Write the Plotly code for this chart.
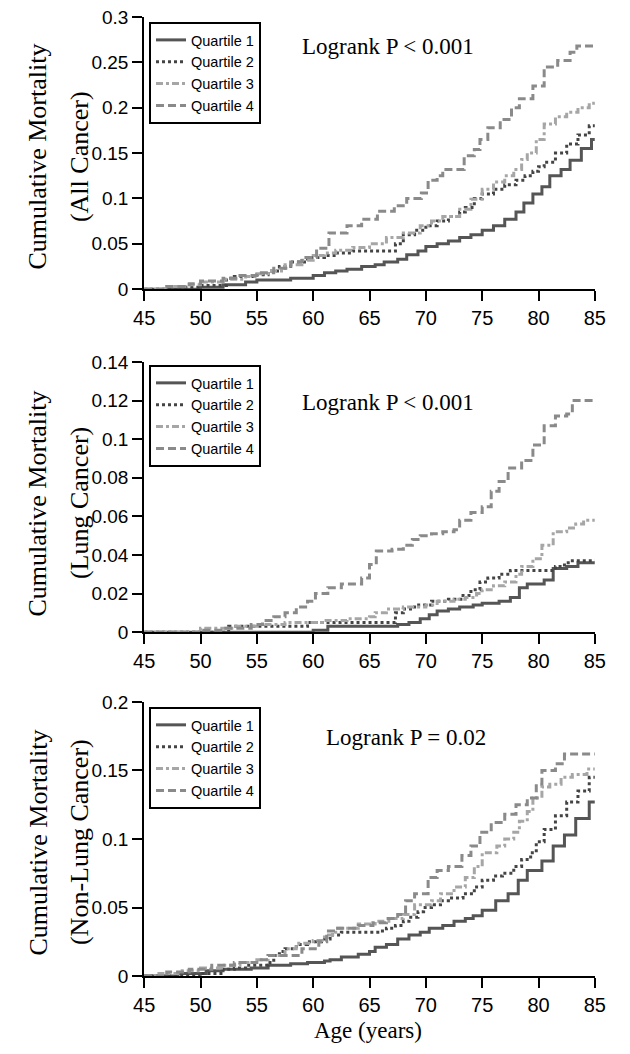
import plotly.graph_objects as go

W, H = 630, 1054

# ---------------- Data (step points: age, cumulative mortality) ----------------
quartiles = ["Quartile 1", "Quartile 2", "Quartile 3", "Quartile 4"]

# Panel 1: All cancer
all_q1_x = [45, 50, 52, 54, 55, 58, 60, 61, 62, 63, 64.3, 65.5, 66.3, 67.5, 68.3, 69.3, 70, 71, 72, 73, 74, 75, 76, 77, 78, 78.7, 79.5, 80.3, 81, 82, 82.8, 83.8, 84.7, 85]
all_q1_y = [0, 0.002, 0.005, 0.008, 0.01, 0.012, 0.015, 0.018, 0.02, 0.022, 0.025, 0.027, 0.03, 0.033, 0.038, 0.042, 0.047, 0.05, 0.053, 0.057, 0.06, 0.065, 0.07, 0.077, 0.085, 0.095, 0.105, 0.113, 0.125, 0.132, 0.142, 0.155, 0.165, 0.165]
all_q2_x = [45, 48, 50, 52.3, 53, 55, 56, 57, 58, 59.5, 61, 62, 63.5, 67.3, 68, 69, 70, 71, 72, 73, 73.5, 74.3, 75, 76, 77, 78, 78.8, 79.5, 80, 80.5, 81.5, 82.5, 83.5, 84.5, 85]
all_q2_y = [0, 0.002, 0.004, 0.012, 0.014, 0.016, 0.02, 0.025, 0.03, 0.035, 0.037, 0.04, 0.042, 0.05, 0.06, 0.065, 0.07, 0.075, 0.08, 0.085, 0.09, 0.1, 0.105, 0.11, 0.115, 0.12, 0.125, 0.13, 0.135, 0.14, 0.15, 0.16, 0.17, 0.18, 0.18]
all_q3_x = [45, 47, 49, 50, 52, 54, 55, 56, 57.5, 59, 60, 61, 62, 63.5, 65, 66.5, 68, 69.5, 70.5, 71.5, 73, 74, 75, 76, 77, 77.8, 78.5, 79, 79.8, 80.5, 81.5, 82.5, 83.5, 84.5, 85]
all_q3_y = [0, 0.003, 0.005, 0.008, 0.011, 0.014, 0.017, 0.02, 0.027, 0.032, 0.037, 0.04, 0.043, 0.046, 0.05, 0.057, 0.062, 0.07, 0.075, 0.08, 0.088, 0.099, 0.11, 0.118, 0.125, 0.132, 0.143, 0.15, 0.165, 0.182, 0.19, 0.195, 0.2, 0.205, 0.207]
all_q4_x = [45, 47, 49, 50, 52, 53.5, 55, 56.5, 58, 59, 60.3, 61.4, 63, 64.3, 65.7, 67.2, 68.3, 69.6, 70.2, 71, 71.5, 73.4, 74.3, 74.8, 75.5, 76.6, 77.6, 78.3, 79.5, 80.5, 81.7, 82.8, 83.4, 85]
all_q4_y = [0, 0.003, 0.006, 0.009, 0.012, 0.015, 0.018, 0.023, 0.03, 0.035, 0.045, 0.062, 0.07, 0.077, 0.086, 0.092, 0.1, 0.106, 0.12, 0.125, 0.132, 0.147, 0.154, 0.165, 0.178, 0.187, 0.2, 0.21, 0.224, 0.245, 0.252, 0.261, 0.268, 0.268]

# Panel 2: Lung cancer
lung_q1_x = [45, 60, 61.3, 67.5, 68.5, 69.5, 70.3, 71, 72, 73, 74.2, 75, 76.5, 77.5, 78.3, 79, 80.5, 81.3, 82.5, 83.5, 85]
lung_q1_y = [0, 0.001, 0.003, 0.004, 0.005, 0.007, 0.009, 0.011, 0.012, 0.013, 0.014, 0.015, 0.016, 0.018, 0.023, 0.025, 0.027, 0.033, 0.034, 0.036, 0.036]
lung_q2_x = [45, 52.5, 59.5, 67.3, 68, 69, 70.5, 72, 73.3, 74, 74.8, 75.5, 76.5, 77.5, 81.5, 82.3, 83, 85]
lung_q2_y = [0, 0.003, 0.005, 0.01, 0.012, 0.014, 0.016, 0.017, 0.019, 0.022, 0.026, 0.028, 0.03, 0.032, 0.034, 0.036, 0.037, 0.037]
lung_q3_x = [45, 50, 53, 55, 57.5, 61, 63, 65, 65.5, 66.5, 68, 70, 71, 72.5, 73.5, 74.5, 75, 76, 77, 78, 78.5, 79.5, 80.3, 81.3, 82.5, 83.3, 84, 85]
lung_q3_y = [0, 0.002, 0.003, 0.004, 0.005, 0.006, 0.007, 0.008, 0.01, 0.012, 0.013, 0.014, 0.016, 0.017, 0.018, 0.02, 0.022, 0.024, 0.026, 0.03, 0.034, 0.038, 0.045, 0.052, 0.054, 0.056, 0.058, 0.058]
lung_q4_x = [45, 50, 52, 54.5, 55.5, 56.5, 57.5, 58.5, 59.5, 60.2, 61.3, 62.5, 64.3, 65, 65.6, 67, 68, 68.8, 69.5, 70.5, 71.5, 72.5, 73, 74, 75, 75.8, 76.5, 77.3, 78.5, 79.5, 80.5, 81.5, 82.5, 83, 85]
lung_q4_y = [0, 0.001, 0.002, 0.004, 0.006, 0.008, 0.01, 0.013, 0.016, 0.02, 0.023, 0.025, 0.028, 0.035, 0.042, 0.043, 0.045, 0.048, 0.05, 0.051, 0.052, 0.053, 0.058, 0.062, 0.065, 0.073, 0.078, 0.085, 0.089, 0.097, 0.107, 0.112, 0.113, 0.12, 0.12]

# Panel 3: Non-lung cancer
nl_q1_x = [45, 48, 50.5, 52, 54.5, 56, 58, 59.5, 61, 61.5, 62.5, 64, 65, 65.5, 66.5, 67.5, 68.5, 69.5, 70.3, 71.5, 72.5, 73.5, 74.2, 75, 76.2, 77.3, 78.2, 79, 80.3, 81.3, 82.3, 83.3, 84.5, 85]
nl_q1_y = [0, 0.002, 0.004, 0.005, 0.006, 0.008, 0.009, 0.01, 0.011, 0.012, 0.014, 0.016, 0.018, 0.021, 0.023, 0.027, 0.03, 0.032, 0.035, 0.037, 0.04, 0.042, 0.044, 0.048, 0.055, 0.06, 0.07, 0.077, 0.084, 0.095, 0.103, 0.115, 0.127, 0.127]
nl_q2_x = [45, 50, 52, 53, 54, 56, 56.5, 57, 57.5, 58.5, 59.5, 61, 61.5, 62.5, 66, 66.5, 67.3, 68, 68.5, 69.3, 69.8, 70.5, 71.3, 72, 73.3, 74.3, 75, 76, 76.8, 77.8, 78.5, 79.3, 79.8, 80.5, 81.5, 82.5, 83.5, 84.5, 85]
nl_q2_y = [0, 0.002, 0.005, 0.006, 0.008, 0.01, 0.015, 0.018, 0.02, 0.023, 0.025, 0.027, 0.03, 0.032, 0.033, 0.035, 0.037, 0.04, 0.043, 0.047, 0.05, 0.052, 0.055, 0.057, 0.06, 0.065, 0.07, 0.073, 0.075, 0.08, 0.085, 0.09, 0.098, 0.107, 0.117, 0.127, 0.135, 0.145, 0.145]
nl_q3_x = [45, 46, 48, 50, 52, 53.5, 55, 56, 57.5, 58.5, 60, 61, 62, 64, 65.5, 67, 68, 69, 70.5, 71.3, 72.5, 73.5, 74.3, 75, 76.3, 77, 77.8, 78.3, 79, 79.5, 80.3, 81, 82, 83, 84.3, 85]
nl_q3_y = [0, 0.002, 0.004, 0.006, 0.008, 0.01, 0.012, 0.015, 0.02, 0.024, 0.026, 0.03, 0.035, 0.038, 0.04, 0.042, 0.045, 0.052, 0.055, 0.06, 0.065, 0.072, 0.08, 0.09, 0.095, 0.1, 0.105, 0.113, 0.12, 0.13, 0.138, 0.14, 0.145, 0.147, 0.151, 0.151]
nl_q4_x = [45, 47, 49, 51, 53, 55, 56, 59, 60.5, 61.2, 62, 64, 65.3, 66.5, 67.5, 68.2, 69, 70.2, 71, 72, 73.2, 74, 74.8, 75.8, 77, 78, 79, 79.8, 80.3, 81.5, 82.3, 85]
nl_q4_y = [0, 0.003, 0.005, 0.008, 0.01, 0.012, 0.015, 0.02, 0.025, 0.033, 0.035, 0.037, 0.039, 0.042, 0.045, 0.055, 0.06, 0.072, 0.077, 0.08, 0.088, 0.095, 0.105, 0.112, 0.118, 0.125, 0.13, 0.14, 0.15, 0.155, 0.162, 0.162]

panels = [
    dict(series=[(all_q1_x, all_q1_y), (all_q2_x, all_q2_y), (all_q3_x, all_q3_y), (all_q4_x, all_q4_y)],
         ymax=0.3, ytick=0.05, subtitle="(All Cancer)", pvalue="Logrank P < 0.001"),
    dict(series=[(lung_q1_x, lung_q1_y), (lung_q2_x, lung_q2_y), (lung_q3_x, lung_q3_y), (lung_q4_x, lung_q4_y)],
         ymax=0.14, ytick=0.02, subtitle="(Lung Cancer)", pvalue="Logrank P < 0.001"),
    dict(series=[(nl_q1_x, nl_q1_y), (nl_q2_x, nl_q2_y), (nl_q3_x, nl_q3_y), (nl_q4_x, nl_q4_y)],
         ymax=0.2, ytick=0.05, subtitle="(Non-Lung Cancer)", pvalue="Logrank P = 0.02"),
]

# ---------------- Styling / layout ----------------
styles = [
    dict(color="#555555", dash="solid"),
    dict(color="#444444", dash="3px,3px"),
    dict(color="#a6a6a6", dash="7px,3px,3px,3px"),
    dict(color="#8a8a8a", dash="8px,4px"),
]

# target pixel geometry (as seen in final image)
panel_px = [(17, 290), (363, 634), (704, 979)]
legend_top_px = [22, 366, 709]
x_left_px, x_right_px = 138, 605
pvalue_x_px = [391, 391, 409]
pvalue_y_px = [47, 404, 740]
title_y_px = [157, 505, 845]

SERIF = "Liberation Serif, Times New Roman, serif"
SANS = "Liberation Sans, Arial, sans-serif"

# the captured page is slightly offset/compressed vertically; compensate
V_OFF, V_SCALE = 10.0, 0.983


def fx(px):
    return px / W


def fy(py):
    return 1 - ((py - V_OFF) / V_SCALE) / H


fig = go.Figure()
layout = dict(
    width=W, height=H, margin=dict(l=0, r=0, t=0, b=0),
    paper_bgcolor="white", plot_bgcolor="white", showlegend=True,
    font=dict(family=SANS, color="black"),
)
annotations = []

for i, p in enumerate(panels):
    n = "" if i == 0 else str(i + 1)
    lg = "legend" if i == 0 else f"legend{i + 1}"
    for q, ((xs, ys), st) in enumerate(zip(p["series"], styles)):
        fig.add_trace(go.Scatter(
            x=xs, y=ys, mode="lines", line_shape="hv", name=quartiles[q],
            line=dict(color=st["color"], dash=st["dash"], width=3),
            xaxis=f"x{n}", yaxis=f"y{n}", legend=lg, cliponaxis=False,
        ))
    top, bot = panel_px[i]
    layout[f"xaxis{n}"] = dict(
        domain=[fx(x_left_px), fx(x_right_px)], anchor=f"y{n}",
        range=[45, 85], tickmode="linear", tick0=45, dtick=5,
        showline=True, linecolor="black", linewidth=2,
        ticks="outside", ticklen=10, tickwidth=2, tickcolor="black",
        showgrid=False, zeroline=False,
        tickfont=dict(size=20, family=SANS),
    )
    layout[f"yaxis{n}"] = dict(
        domain=[fy(bot), fy(top)], anchor=f"x{n}",
        range=[0, p["ymax"]], tickmode="linear", tick0=0, dtick=p["ytick"],
        showline=True, linecolor="black", linewidth=2,
        ticks="outside", ticklen=10, tickwidth=2, tickcolor="black",
        showgrid=False, zeroline=False,
        tickfont=dict(size=19, family=SANS),
    )
    layout[lg] = dict(
        x=fx(143), y=fy(legend_top_px[i]), xanchor="left", yanchor="top",
        bgcolor="white", bordercolor="black", borderwidth=2,
        font=dict(size=14.5, family=SANS),
        itemwidth=30, tracegroupgap=0,
    )
    annotations.append(dict(
        text="Cumulative Mortality", x=fx(28), y=fy(title_y_px[i]), xref="paper", yref="paper",
        textangle=-90, showarrow=False, xanchor="center", yanchor="middle",
        font=dict(size=26, family=SERIF),
    ))
    annotations.append(dict(
        text=p["subtitle"], x=fx(71), y=fy(title_y_px[i]), xref="paper", yref="paper",
        textangle=-90, showarrow=False, xanchor="center", yanchor="middle",
        font=dict(size=26, family=SERIF),
    ))
    annotations.append(dict(
        text=p["pvalue"], x=fx(pvalue_x_px[i]), y=fy(pvalue_y_px[i]), xref="paper", yref="paper",
        showarrow=False, xanchor="center", yanchor="middle",
        font=dict(size=23, family=SERIF),
    ))

annotations.append(dict(
    text="Age (years)", x=fx(370), y=fy(1034), xref="paper", yref="paper",
    showarrow=False, xanchor="center", yanchor="middle",
    font=dict(size=23, family=SERIF),
))
layout["annotations"] = annotations
fig.update_layout(**layout)
fig.write_html(
    "out.html",
    config={"displayModeBar": False},
    post_script="document.body.style.margin='0';document.body.style.padding='0';"
                "document.documentElement.style.overflow='hidden';",
)
